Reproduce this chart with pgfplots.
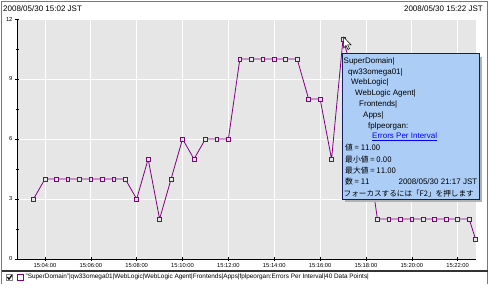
\documentclass[border=0pt]{standalone}
\usepackage{pgfplots}
\pgfplotsset{compat=1.18}
\usepackage{fontspec}
\setmainfont{Liberation Sans}
\newfontfamily\jp{Noto Sans CJK JP}
\definecolor{bg}{RGB}{230,230,230}
\definecolor{pur}{RGB}{128,0,128}
\definecolor{tip}{RGB}{172,206,246}
\definecolor{tipb}{RGB}{20,30,90}
\definecolor{frame}{RGB}{120,120,120}
\pgfplotstableread{
x y
3.5 3
4.0 4
4.5 4
5.0 4
5.5 4
6.0 4
6.5 4
7.0 4
7.5 4
8.0 3
8.5 5
9.0 2
9.5 4
10.0 6
10.5 5
11.0 6
11.5 6
12.0 6
12.5 10
13.0 10
13.5 10
14.0 10
14.5 10
15.0 10
15.5 8
16.0 8
16.5 5
17.0 11
17.5 9
18.0 6
18.5 2
19.0 2
19.5 2
20.0 2
20.5 2
21.0 2
21.5 2
22.0 2
22.5 2
22.78 1
}\datatable
\begin{document}
\begin{tikzpicture}[x=1pt,y=1pt]
\path[use as bounding box] (0,0) rectangle (504,288);
% frame
\draw[frame, line width=0.8pt] (1.5,286.5) -- (487.5,286.5) -- (487.5,4);
\draw[frame, line width=0.8pt] (1.5,286.5) -- (1.5,4);
% header
\node[anchor=west, inner sep=0, font=\fontsize{8}{9}\selectfont] at (3,279) {2008/05/30 15:02 JST};
\node[anchor=east, inner sep=0, font=\fontsize{8}{9}\selectfont] at (483,279) {2008/05/30 15:22 JST};
\begin{axis}[
  at={(17pt,29pt)}, anchor=south west, scale only axis,
  width=459pt, height=240pt,
  xmin=2.78, xmax=22.8, ymin=0, ymax=12,
  axis background/.style={fill=bg},
  axis lines*=left,
  axis line style={-, black, line width=0.8pt},
  xtick={4,6,...,22},
  xticklabels={15:04:00,15:06:00,15:08:00,15:10:00,15:12:00,15:14:00,15:16:00,15:18:00,15:20:00,15:22:00},
  ytick={0,3,6,9,12},
  minor y tick num=1,
  tick align=center,
  major tick length=4pt,
  minor tick length=3pt,
  tick style={black, line width=0.6pt},
  xmajorgrids, ymajorgrids,
  major grid style={white, line width=0.9pt},
  tick label style={font=\fontsize{5.8}{6}\selectfont},
  /pgf/number format/assume math mode=true,
  xticklabel style={yshift=1pt},
  yticklabel style={xshift=1pt},
  clip=false,
]
\addplot[pur, line width=0.8pt, mark=square*, mark size=1.9pt,
  mark options={fill=bg, draw=pur, line width=0.7pt, solid}] table[x=x, y=y] {\datatable};
\end{axis}
% tooltip
\fill[gray!60] (344.5,86) rectangle (481.5,231);
\draw[tipb, fill=tip, line width=0.9pt] (342.5,88.5) rectangle (479,235);
\begin{scope}[every node/.style={anchor=west, inner sep=0, font=\fontsize{8}{9}\selectfont}]
\node at (343.5,227) {SuperDomain|};
\node at (348,216) {qw33omega01|};
\node at (351,205.5) {WebLogic|};
\node at (355,194.5) {WebLogic Agent|};
\node at (359,184) {Frontends|};
\node at (363,173) {Apps|};
\node at (368,161.5) {fplpeorgan:};
\node[text=blue] at (372,151) {\underline{Errors Per Interval}};
\node[font=\jp\fontsize{7.8}{9}\selectfont] at (345,140) {値 = 11.00};
\node[font=\jp\fontsize{7.8}{9}\selectfont] at (345,128.5) {最小値 = 0.00};
\node[font=\jp\fontsize{7.8}{9}\selectfont] at (345,117) {最大値 = 11.00};
\node[font=\jp\fontsize{7.8}{9}\selectfont] at (345,106) {数 = 11};
\node[anchor=east] at (477.5,106) {2008/05/30 21:17 JST};
\node[font=\jp\fontsize{7.6}{9}\selectfont] at (343.5,94) {フォーカスするには「F2」を押します};
\end{scope}
% cursor
\draw[black, fill=white, line width=0.5pt] (343.5,251) -- (343.5,240) -- (346,242.5) -- (348,238.5) -- (349.5,239.3) -- (347.6,243.2) -- (351,243.2) -- cycle;
% legend separator
\draw[black!80, line width=1.6pt] (1.5,17) -- (487.5,17);
% legend
\draw[gray, line width=0.6pt, fill=white] (6.5,7.5) rectangle (12.5,13.5);
\draw[black, line width=1.2pt] (7.5,11) -- (9,8.8) -- (11.8,12.8);
\draw[pur, line width=0.9pt] (17,7.5) rectangle (23.5,14);
\node[anchor=west, inner sep=0, font=\fontsize{6.4}{7}\selectfont] at (25.5,10.8) {"SuperDomain"|qw33omega01|WebLogic|WebLogic Agent|Frontends|Apps|fplpeorgan:Errors Per Interval|40 Data Points|};
\end{tikzpicture}
\end{document}
